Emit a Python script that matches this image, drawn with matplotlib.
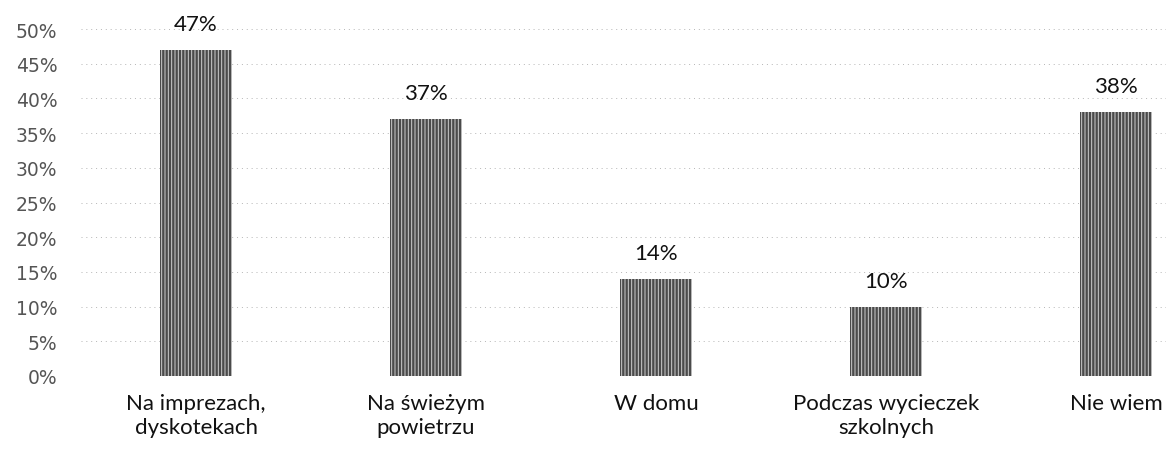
import matplotlib.pyplot as plt
import numpy as np

# data
categories = ["Na imprezach,\ndyskotekach", "Na świeżym\npowietrzu", "W domu",
              "Podczas wycieczek\nszkolnych", "Nie wiem"]
values = [47, 37, 14, 10, 38]
yticks = [0, 5, 10, 15, 20, 25, 30, 35, 40, 45, 50]

plt.rcParams['font.family'] = ['Lato', 'DejaVu Sans']
plt.rcParams['hatch.linewidth'] = 0.7
plt.rcParams['hatch.color'] = '#d0d0d0'

fig = plt.figure(figsize=(11.66, 4.6), dpi=100)
ax = fig.add_axes([81 / 1166, 83 / 460, 1 - 81 / 1166, 347 / 460])

x = np.arange(len(categories))
ax.bar(x, values, width=0.31, color='#4a4a4a', hatch='|||||', edgecolor='#d0d0d0',
       linewidth=0, zorder=2)
for xi, v in zip(x, values):
    ax.text(xi, v + 2.3, f"{v}%", ha='center', va='bottom', fontsize=16, color='#111111')

ax.set_xlim(-0.5, 4.217)
ax.set_ylim(0, 50)
ax.set_yticks(yticks)
ax.set_yticklabels([f"{t}%" for t in yticks], fontsize=13.5, color='#555555',
                   family='DejaVu Sans')
ax.set_xticks(x)
ax.set_xticklabels(categories, fontsize=16, color='#111111', linespacing=1.3)
ax.tick_params(length=0, axis='y', pad=17)
ax.tick_params(length=0, axis='x', pad=12)
for s in ax.spines.values():
    s.set_visible(False)
ax.yaxis.grid(True, color='#b5b5b5', linestyle=(0, (1, 4)), linewidth=0.7, zorder=0)

fig.savefig('out.png', dpi=100)
